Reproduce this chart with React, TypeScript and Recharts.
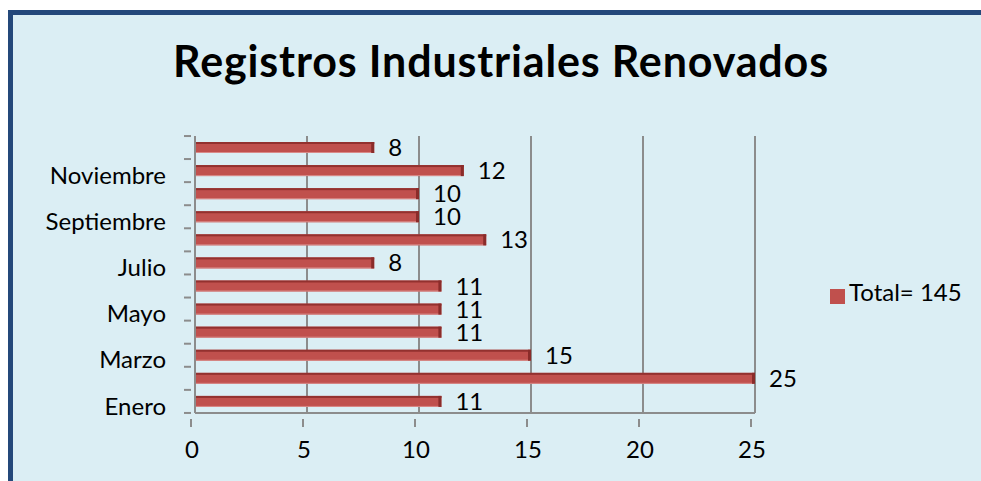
import { Bar, BarChart, CartesianGrid, LabelList, Legend, XAxis, YAxis } from 'recharts';

const MONTHS = [
  'Enero', 'Febrero', 'Marzo', 'Abril', 'Mayo', 'Junio',
  'Julio', 'Agosto', 'Septiembre', 'Octubre', 'Noviembre', 'Diciembre',
];
const VALUES = [11, 25, 15, 11, 11, 11, 8, 13, 10, 10, 12, 8];
const X_TICKS = [0, 5, 10, 15, 20, 25];

const TOTAL = VALUES.reduce((a, v) => a + v, 0);
const SERIES_NAME = `Total= ${TOTAL}`;
const data = MONTHS.map((m, i) => ({ mes: m, total: VALUES[i] }));

const RED = '#C0504D';
const AXIS = '#8c8c8c';
const FONT = 'Lato, "Noto Sans", sans-serif';

function Bar3D(props: any) {
  const { x, y, width, height } = props;
  if (!width || width <= 0) return null;
  return (
    <g>
      <rect x={x} y={y} width={width} height={height} fill={RED} />
      <rect x={x} y={y} width={width} height={2} fill="#93312f" />
      <rect x={x} y={y + height - 1} width={width} height={1} fill="#d98a88" />
      <rect x={x + width - 3} y={y} width={3} height={height} fill="#8a2c2a" />
    </g>
  );
}

function MonthTick(props: any) {
  const { x, y, payload, index } = props;
  const half = 11.5;
  return (
    <g>
      <line x1={x - 3} x2={x + 4} y1={y + half} y2={y + half} stroke={AXIS} strokeWidth={2} />
      {index === MONTHS.length - 1 && (
        <line x1={x - 3} x2={x + 4} y1={y - half} y2={y - half} stroke={AXIS} strokeWidth={2} />
      )}
      {index % 2 === 0 && (
        <text x={x - 21} y={y + 7} textAnchor="end" dominantBaseline="middle" fontSize={24} fill="#000" fontFamily={FONT}>
          {payload.value}
        </text>
      )}
    </g>
  );
}

function NumTick(props: any) {
  const { x, y, payload } = props;
  return (
    <g>
      <line x1={x - 4} x2={x - 4} y1={y - 2} y2={y + 6} stroke={AXIS} strokeWidth={2} />
      <text x={x - 3} y={y + 37} textAnchor="middle" fontSize={24} fill="#000" fontFamily={FONT}>
        {payload.value}
      </text>
    </g>
  );
}

export default function App() {
  return (
    <div
      style={{
        position: 'absolute',
        left: 0,
        top: 0,
        width: 981,
        height: 481,
        overflow: 'hidden',
        background: '#fff',
        fontFamily: FONT,
      }}
    >
      <div
        style={{
          position: 'absolute',
          left: 8,
          top: 10,
          width: 1000,
          height: 500,
          border: '5px solid #24487a',
          background: '#DBEEF4',
        }}
      />
      <div
        style={{
          position: 'absolute',
          left: 0,
          top: 35,
          width: 1002,
          textAlign: 'center',
          fontSize: 43,
          fontWeight: 700,
          letterSpacing: 0.85,
          lineHeight: '52px',
          color: '#000',
        }}
      >
        Registros Industriales Renovados
      </div>
      <div style={{ position: 'absolute', left: 0, top: 0 }}>
        <BarChart
          width={981}
          height={481}
          data={data}
          layout="vertical"
          margin={{ top: 136, right: 226, bottom: 38, left: 0 }}
          barSize={11}
        >
          <CartesianGrid horizontal={false} stroke={AXIS} strokeWidth={2} />
          <XAxis
            type="number"
            domain={[0, 25]}
            ticks={X_TICKS}
            interval={0}
            height={30}
            axisLine={{ stroke: AXIS, strokeWidth: 2 }}
            tickLine={false}
            tick={<NumTick />}
          />
          <YAxis
            type="category"
            dataKey="mes"
            reversed
            width={195}
            interval={0}
            axisLine={{ stroke: AXIS, strokeWidth: 2 }}
            tickLine={false}
            tick={<MonthTick />}
          />
          <Legend
            layout="horizontal"
            align="center"
            verticalAlign="middle"
            iconType="square"
            iconSize={15}
            wrapperStyle={{ left: 830, top: 277, width: 'auto' }}
            formatter={(v) => <span style={{ color: '#000', fontSize: 24 }}>{v}</span>}
          />
          <Bar dataKey="total" name={SERIES_NAME} fill={RED} shape={<Bar3D />} isAnimationActive={false}>
            <LabelList dataKey="total" position="right" offset={14} fill="#000" fontSize={24} fontFamily={FONT} />
          </Bar>
        </BarChart>
      </div>
    </div>
  );
}
